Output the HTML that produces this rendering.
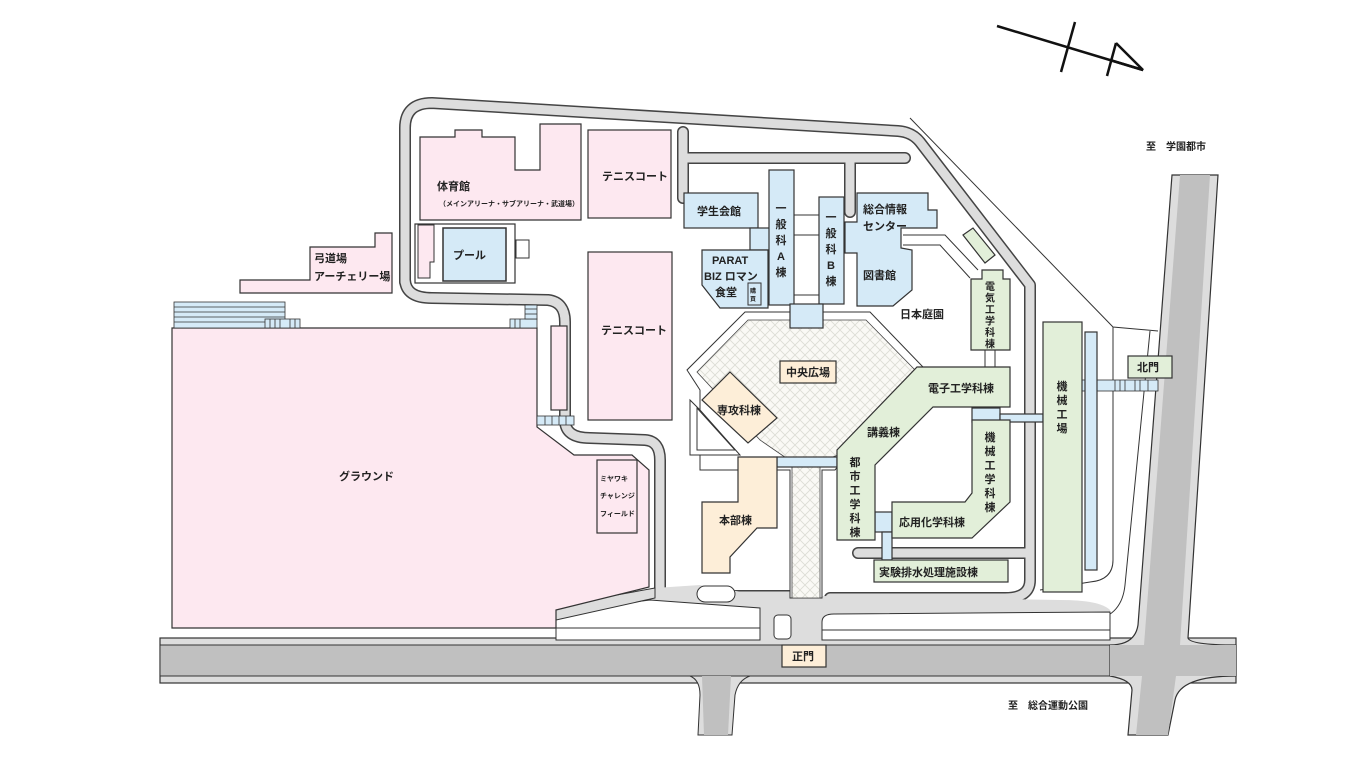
<!DOCTYPE html>
<html><head><meta charset="utf-8"><style>
html,body{margin:0;padding:0;background:#fff;width:1366px;height:768px;overflow:hidden}
svg{display:block}
text{font-family:"Liberation Sans","Noto Sans CJK JP",sans-serif;font-weight:bold;fill:#222}
</style></head><body>
<svg width="1366" height="768" viewBox="0 0 1366 768" xmlns="http://www.w3.org/2000/svg">
<defs>
<pattern id="h" width="10" height="10" patternUnits="userSpaceOnUse">
<rect width="10" height="10" fill="#faf9f5"/>
<path d="M0,0L10,10M10,0L0,10" stroke="#dcdcd4" stroke-width="0.8"/>
</pattern>
</defs>

<g stroke="#111" stroke-width="2.5" fill="none">
<line x1="997" y1="26" x2="1143" y2="70"/>
<line x1="1075" y1="22" x2="1061" y2="72"/>
<line x1="1116" y1="43" x2="1107" y2="76"/>
<polyline points="1116,43 1143,70 1110,60"/>
</g>

<g stroke="#333" stroke-width="1" fill="none">
<polyline points="910,118 1113,327 1158,331"/>
<path d="M1113,327 L1113,560 Q1113,580 1090,582 L1040,590"/>
<path d="M1150,331 L1125,585 Q1122,615 1095,620 L830,628"/>
</g>

<rect x="160" y="638" width="1076" height="45" fill="#ddd" stroke="#333" stroke-width="1.2"/>
<rect x="160" y="645" width="1076" height="31" fill="#c0c0c0" stroke="#333" stroke-width="1"/>
<path d="M690,676 Q700,680 700,695 L698,735 L732,735 L735,695 Q738,680 750,676 Z" fill="#ddd" stroke="#333" stroke-width="1"/>
<path d="M702,676 L704,735 L728,735 L731,676 Z" fill="#c0c0c0"/>
<path d="M1172,175 L1218,175 L1188,638 Q1190,645 1236,645 L1236,676 Q1180,676 1175,700 L1168,735 L1128,735 L1132,690 Q1132,680 1110,676 L1110,645 Q1135,645 1138,625 Z" fill="#ddd" stroke="#333" stroke-width="1.2"/>
<path d="M1180,175 L1210,175 L1180,645 L1236,645 L1236,676 L1176,676 L1168,735 L1136,735 L1142,676 L1110,676 L1110,645 L1144,645 Z" fill="#c0c0c0"/>

<g fill="none" stroke-linecap="round" stroke-linejoin="round">
<g stroke="#444" stroke-width="12">
<path d="M405,282 L405,128 Q405,103 432,103 L898,131 Q912,132 920,142 L1030,285 L1030,580 Q1030,598 1005,598 L830,598"/>
<path d="M405,280 Q406,298 432,298 L548,300 Q565,302 565,322 L565,420 Q565,438 590,438 L645,440 Q660,441 660,460 L660,598"/>
<path d="M683,132 L683,198"/><path d="M683,158 L905,158"/><path d="M850,158 L850,212"/>
<path d="M858,553 L1030,553"/>
<path d="M560,612 L660,596 L790,596"/>
</g>
<g stroke="#ddd" stroke-width="9">
<path d="M405,282 L405,128 Q405,103 432,103 L898,131 Q912,132 920,142 L1030,285 L1030,580 Q1030,598 1005,598 L830,598"/>
<path d="M405,280 Q406,298 432,298 L548,300 Q565,302 565,322 L565,420 Q565,438 590,438 L645,440 Q660,441 660,460 L660,598"/>
<path d="M683,132 L683,198"/><path d="M683,158 L905,158"/><path d="M850,158 L850,212"/>
<path d="M858,553 L1030,553"/>
<path d="M560,612 L660,596 L790,596"/>
</g>
</g>
<path d="M556,606 L655,588 L700,585 L760,595 L1060,600 Q1100,600 1110,610 L1110,640 L556,640 Z" fill="#ddd"/>
<g fill="#fff" stroke="#333" stroke-width="1">
<path d="M556,612 L650,600 L760,608 L760,640 L556,640 Z" fill="#fff"/>
<rect x="774" y="615" width="17" height="24" rx="4"/>
<path d="M822,640 L822,622 Q822,614 834,614 L1110,612 L1110,640 Z"/>
<rect x="697" y="586" width="38" height="16" rx="8"/>
</g>
<path d="M556,606 L655,588 L655,598 L556,620 Z" fill="#ddd" stroke="#333" stroke-width="1"/>
<line x1="556" y1="628" x2="760" y2="628" stroke="#333"/>
<line x1="822" y1="630" x2="1110" y2="630" stroke="#333"/>

<path d="M745,312 L870,312 L923,367 L850,452 L835,470 L822,470 L822,598 L790,598 L790,470 L700,470 L700,390 L687,370 Z" fill="#fff" stroke="#333" stroke-width="1"/>
<path d="M748,320 L866,320 L915,370 L838,455 L820,462 L820,598 L792,598 L792,462 L760,440 L697,372 Z" fill="url(#h)" stroke="#444" stroke-width="0.8"/>
<path d="M690,400 L690,455 L740,455 L700,410 Z" fill="#fff" stroke="#333"/>
<path d="M697,408 L697,450 L735,450 Z" fill="#fff" stroke="#333"/>

<g fill="#fde8f0" stroke="#333" stroke-width="1.2">
<path d="M420,137 L455,137 L455,130 L482,130 L482,137 L515,137 L515,170 L540,170 L540,124 L581,124 L581,220 L420,220 Z"/>
<rect x="588" y="130" width="83" height="88"/>
<rect x="588" y="252" width="84" height="168"/>
<path d="M240,280 L310,280 L310,247 L375,247 L375,233 L392,233 L392,293 L240,293 Z"/>
<path d="M172,328 L537,328 L537,427 L574,455 L632,455 L649,470 L649,587 L556,610 L556,628 L172,628 Z"/>
<rect x="551" y="326" width="16" height="84"/>
<rect x="597" y="460" width="40" height="73"/>
</g>
<rect x="415" y="224" width="100" height="59" fill="#fff" stroke="#333" stroke-width="1.2"/>
<path d="M418,225 L434,225 L434,262 L430,262 L430,278 L418,278 Z" fill="#fde8f0" stroke="#333"/>
<rect x="443" y="228" width="63" height="53" fill="#d5eaf7" stroke="#333" stroke-width="1.5"/>
<rect x="516" y="240" width="13" height="18" fill="#fff" stroke="#333"/>
<g fill="#d5eaf7" stroke="#333" stroke-width="0.8">
<rect x="174" y="302" width="111" height="26"/>
<rect x="265" y="319" width="35" height="9"/>
<rect x="510" y="319" width="27" height="9"/>
<rect x="525" y="305" width="12" height="14"/>
<rect x="537" y="416" width="37" height="9"/>
<rect x="1082" y="380" width="76" height="11"/>
</g>
<g stroke="#333" stroke-width="0.8">
<line x1="174" y1="307" x2="285" y2="307"/><line x1="174" y1="312" x2="285" y2="312"/><line x1="174" y1="317" x2="285" y2="317"/><line x1="174" y1="322" x2="265" y2="322"/>
<line x1="270" y1="319" x2="270" y2="328"/><line x1="275" y1="319" x2="275" y2="328"/><line x1="280" y1="319" x2="280" y2="328"/><line x1="290" y1="319" x2="290" y2="328"/><line x1="295" y1="319" x2="295" y2="328"/>
<line x1="515" y1="319" x2="515" y2="328"/><line x1="520" y1="319" x2="520" y2="328"/><line x1="525" y1="309" x2="537" y2="309"/><line x1="525" y1="314" x2="537" y2="314"/>
<line x1="545" y1="416" x2="545" y2="425"/><line x1="552" y1="416" x2="552" y2="425"/><line x1="559" y1="416" x2="559" y2="425"/><line x1="566" y1="416" x2="566" y2="425"/>
<line x1="1115" y1="380" x2="1115" y2="391"/><line x1="1120" y1="380" x2="1120" y2="391"/><line x1="1125" y1="380" x2="1125" y2="391"/><line x1="1135" y1="380" x2="1135" y2="391"/><line x1="1140" y1="380" x2="1140" y2="391"/><line x1="1148" y1="380" x2="1148" y2="391"/>
</g>

<g fill="#d5eaf7" stroke="#333" stroke-width="1.2">
<rect x="684" y="193" width="74" height="35"/>
<rect x="750" y="228" width="20" height="22"/>
<path d="M702,250 L768,250 L768,308 L720,308 L702,285 Z"/>
<rect x="769" y="170" width="25" height="135"/>
<rect x="819" y="197" width="25" height="107"/>
<path d="M857,193 L928,193 L928,210 L937,210 L937,228 L901,228 L901,248 L912,250 L912,290 L893,306 L857,306 L857,253 L845,253 L845,222 L857,222 Z"/>
<rect x="790" y="304" width="33" height="24"/>
<rect x="777" y="457" width="60" height="10"/>
<path d="M972,408 L1000,408 L1000,422 L972,422 Z"/>
<rect x="1000" y="414" width="43" height="8"/>
<rect x="875" y="512" width="17" height="20"/>
<rect x="882" y="532" width="10" height="28"/>
<rect x="1085" y="332" width="12" height="238"/>
</g>
<rect x="748" y="283" width="13" height="22" fill="#d5eaf7" stroke="#333"/>
<g stroke="#333" fill="none"><line x1="794" y1="215" x2="819" y2="215"/><line x1="794" y1="235" x2="819" y2="235"/><line x1="794" y1="295" x2="819" y2="295"/>
<polyline points="903,235 945,235 978,270"/><polyline points="903,245 940,245 970,278"/></g>

<g fill="#e2efd9" stroke="#333" stroke-width="1.2">
<path d="M963,235 L973,228 L995,255 L985,263 Z"/>
<path d="M971,279 L982,279 L982,270 L1003,270 L1003,279 L1010,279 L1010,350 L971,350 Z"/>
<path d="M837,540 L875,540 L875,465 L933,407 L1010,407 L1010,367 L917,367 L837,450 Z"/>
<path d="M972,420 L1010,420 L1010,502 L972,538 L892,538 L892,502 L965,502 L972,493 Z"/>
<rect x="874" y="560" width="134" height="22"/>
<rect x="1043" y="322" width="39" height="270"/>
<rect x="1128" y="356" width="44" height="22"/>
</g>
<line x1="985" y1="350" x2="985" y2="367" stroke="#333"/><line x1="995" y1="350" x2="995" y2="367" stroke="#333"/>

<g fill="#fdeed8" stroke="#333" stroke-width="1.2">
<path d="M730,372 L777,418 L748,443 L702,400 Z"/>
<path d="M738,457 L777,457 L777,528 L757,528 L730,557 L730,573 L702,573 L702,502 L738,502 Z"/>
<rect x="780" y="361" width="56" height="22"/>
<rect x="782" y="645" width="44" height="22"/>
</g>

<g font-size="11">
<text x="437" y="190">体育館</text>
<text x="439" y="206" font-size="7">（メインアリーナ・サブアリーナ・武道場）</text>
<text x="602" y="180">テニスコート</text>
<text x="601" y="334">テニスコート</text>
<text x="453" y="259">プール</text>
<text x="314" y="262">弓道場</text>
<text x="314" y="280">アーチェリー場</text>
<text x="339" y="480">グラウンド</text>
<text x="600" y="481" font-size="7">ミヤワキ</text>
<text x="600" y="498" font-size="7">チャレンジ</text>
<text x="600" y="516" font-size="7">フィールド</text>
<text x="697" y="215">学生会館</text>
<text x="712" y="264">PARAT</text>
<text x="704" y="280">BIZ ロマン</text>
<text x="715" y="296">食堂</text>
<text x="750" y="293" font-size="6">購</text><text x="750" y="301" font-size="6">買</text>
<g text-anchor="middle"><text x="781" y="212">一</text><text x="781" y="228">般</text><text x="781" y="244">科</text><text x="781" y="260">A</text><text x="781" y="276">棟</text>
<text x="831" y="221">一</text><text x="831" y="237">般</text><text x="831" y="253">科</text><text x="831" y="269">B</text><text x="831" y="285">棟</text>
<g font-size="10"><text x="990" y="290">電</text><text x="990" y="301.5">気</text><text x="990" y="313">工</text><text x="990" y="324.5">学</text><text x="990" y="336">科</text><text x="990" y="347.5">棟</text></g>
<text x="990" y="441">機</text><text x="990" y="455">械</text><text x="990" y="469">工</text><text x="990" y="483">学</text><text x="990" y="497">科</text><text x="990" y="511">棟</text>
<text x="855" y="466">都</text><text x="855" y="480">市</text><text x="855" y="494">工</text><text x="855" y="508">学</text><text x="855" y="522">科</text><text x="855" y="536">棟</text>
<text x="1062" y="390">機</text><text x="1062" y="404">械</text><text x="1062" y="418">工</text><text x="1062" y="432">場</text></g>
<text x="863" y="213">総合情報</text>
<text x="863" y="230">センター</text>
<text x="863" y="279">図書館</text>
<text x="900" y="318">日本庭園</text>
<text x="786" y="376">中央広場</text>
<text x="717" y="414">専攻科棟</text>
<text x="719" y="524">本部棟</text>
<text x="928" y="392">電子工学科棟</text>
<text x="867" y="436">講義棟</text>
<text x="899" y="526">応用化学科棟</text>
<text x="879" y="576">実験排水処理施設棟</text>
<text x="1137" y="371">北門</text>
<text x="792" y="660">正門</text>
<text x="1146" y="150" font-size="10">至　学園都市</text>
<text x="1008" y="709" font-size="10">至　総合運動公園</text>
</g>
</svg>
</body></html>
